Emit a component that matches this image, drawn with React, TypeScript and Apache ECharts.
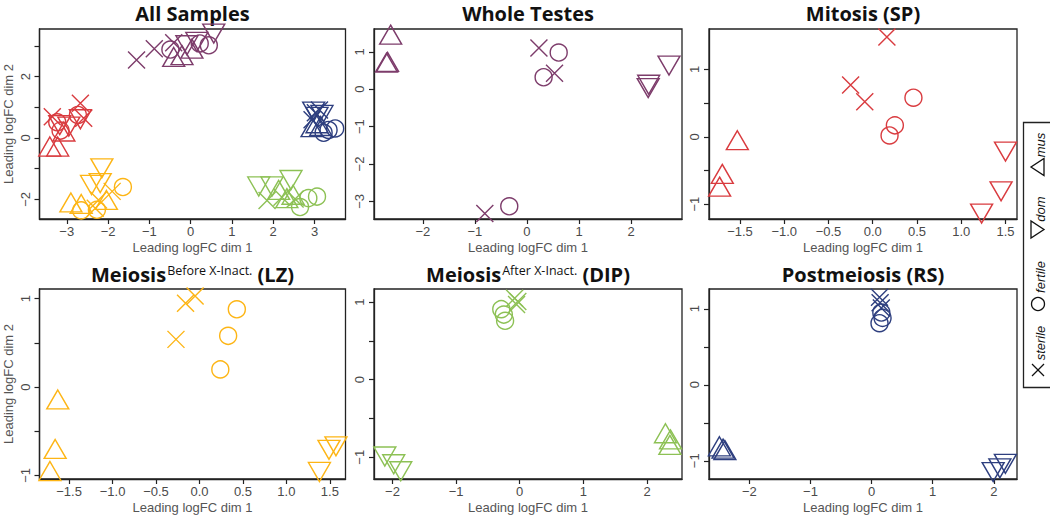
import React, { useEffect, useRef } from "react";
import * as echarts from "echarts";

// ---------- DATA ----------
// Panel 1: All samples (per stage cluster)
const allWT_sterile = [[-1.31, 2.54], [-0.88, 2.91], [-0.41, 3.1]];
const allWT_fertile = [[-0.49, 2.88], [0.22, 3.08], [0.44, 3.02]];
const allWT_dom = [[0.56, 3.4], [0.15, 3.13], [-0.09, 3.02]];
const allWT_mus = [[-0.41, 2.64], [-0.21, 2.7], [0.03, 2.91]];

const allSP_sterile = [[-2.67, 1.13], [-2.59, 0.64], [-3.35, 0.69]];
const allSP_fertile = [[-3.23, 0.51], [-2.73, 0.75], [-3.15, 0.24]];
const allSP_dom = [[-2.67, 0.61], [-2.95, 0.37], [-3.17, 0.42]];
const allSP_mus = [[-3.41, -0.28], [-3.22, -0.28], [-3.07, 0.21]];

const allLZ_sterile = [[-1.9, -1.74], [-2.23, -2.02], [-2.31, -2.29]];
const allLZ_fertile = [[-1.64, -1.6], [-2.27, -2.34], [-2.65, -2.36]];
const allLZ_dom = [[-2.15, -0.99], [-2.4, -1.53], [-2.19, -1.47]];
const allLZ_mus = [[-2.9, -2.1], [-2.65, -2.15], [-2.04, -2.02]];

const allDIP_sterile = [[1.85, -2.04], [2.21, -1.93], [2.53, -1.99]];
const allDIP_fertile = [[3.06, -1.91], [2.65, -2.25], [2.85, -1.96]];
const allDIP_dom = [[1.65, -1.58], [1.97, -1.58], [2.43, -1.37]];
const allDIP_mus = [[2.13, -1.69], [2.33, -1.96], [2.48, -1.85]];

const allRS_sterile = [[3.02, 0.82], [3.12, 0.91], [2.94, 0.59]];
const allRS_fertile = [[3.34, 0.26], [3.5, 0.31], [3.22, 0.17]];
const allRS_dom = [[2.98, 0.86], [3.18, 0.75], [3.06, 0.69]];
const allRS_mus = [[2.94, 0.35], [3.15, 0.39], [3.06, 0.48]];

// Panel 2: Whole testes
const wt_sterile = [[0.23, 1.1], [0.53, 0.43], [-0.81, -3.32]];
const wt_fertile = [[0.61, 0.98], [0.32, 0.32], [-0.34, -3.13]];
const wt_dom = [[2.73, 0.63], [2.34, 0.12], [2.33, 0.03]];
const wt_mus = [[-2.62, 1.46], [-2.7, 0.71], [-2.68, 0.73]];

// Panel 3: Mitosis (SP)
const sp_sterile = [[0.16, 1.48], [-0.25, 0.77], [-0.09, 0.52]];
const sp_fertile = [[0.46, 0.58], [0.25, 0.17], [0.19, 0.02]];
const sp_dom = [[1.5, -0.22], [1.45, -0.81], [1.23, -1.14]];
const sp_mus = [[-1.53, -0.05], [-1.7, -0.55], [-1.73, -0.74]];

// Panel 4: Meiosis before X-inactivation (LZ)
const lz_sterile = [[-0.05, 1.03], [-0.16, 0.95], [-0.27, 0.54]];
const lz_fertile = [[0.43, 0.88], [0.33, 0.58], [0.24, 0.2]];
const lz_dom = [[1.57, -0.67], [1.49, -0.71], [1.38, -0.96]];
const lz_mus = [[-1.63, -0.14], [-1.66, -0.7], [-1.72, -0.95]];

// Panel 5: Meiosis after X-inactivation (DIP)
const dip_sterile = [[-0.08, 1.05], [-0.03, 1.01], [-0.05, 0.97]];
const dip_fertile = [[-0.29, 0.91], [-0.25, 0.84], [-0.23, 0.76]];
const dip_dom = [[-2.12, -0.99], [-1.98, -1.09], [-1.87, -1.18]];
const dip_mus = [[2.29, -0.69], [2.37, -0.77], [2.36, -0.84]];

// Panel 6: Postmeiosis (RS)
const rs_sterile = [[0.13, 1.15], [0.14, 1.08], [0.16, 1.01]];
const rs_fertile = [[0.16, 0.95], [0.18, 0.88], [0.13, 0.81]];
const rs_dom = [[2.19, -1.04], [2.1, -1.1], [1.99, -1.15]];
const rs_mus = [[-2.49, -0.81], [-2.43, -0.84], [-2.4, -0.86]];

// Axis ticks / labels
const ticksInt3 = [-3, -2, -1, 0, 1, 2, 3];
const ticksAllY = [-2, -1, 0, 1, 2, 3];
const labelsAllY = [-2, 0, 2];
const ticksInt2 = [-2, -1, 0, 1, 2];
const ticksWTY = [-3, -2, -1, 0, 1];
const ticksHalf = [-1.5, -1, -0.5, 0, 0.5, 1, 1.5];
const ticksYHalf = [-1, -0.5, 0, 0.5, 1];
const labelsY1 = [-1, 0, 1];

const titles = ["All Samples", "Whole Testes", "Mitosis (SP)", "Meiosis|Before X-Inact.| (LZ)", "Meiosis|After X-Inact.| (DIP)", "Postmeiosis (RS)"];
const legendLabels = ["sterile", "fertile", "dom", "mus"];

// ---------- STYLE ----------
const C_WT = "#7D3C6B";
const C_SP = "#D93B3F";
const C_LZ = "#FDB515";
const C_DIP = "#8DC155";
const C_RS = "#2E3F7F";

const FONT = '"Liberation Sans", Arial, sans-serif';
const TITLE_FONT = '"Open Sans", Lato, sans-serif';

const SHAPES: Record<string, { symbol: string; size: number | number[] }> = {
  sterile: { symbol: "path://M0,0L10,10M10,0L0,10", size: 17 },
  fertile: { symbol: "circle", size: 17 },
  dom: { symbol: "path://M0,0L20,0L10,17.3Z", size: [22, 19] },
  mus: { symbol: "path://M10,0L20,17.3L0,17.3Z", size: [22, 19] },
};

const GRIDS = [
  { left: 39.5, top: 29, width: 306, height: 190 },
  { left: 374, top: 29, width: 308, height: 190 },
  { left: 709, top: 29, width: 308, height: 190 },
  { left: 39.5, top: 289, width: 306, height: 190 },
  { left: 374, top: 289, width: 308, height: 190 },
  { left: 709, top: 289, width: 308, height: 190 },
];

const RANGES = [
  { x: [-3.66, 3.75], y: [-2.64, 3.55], xt: ticksInt3, xl: ticksInt3, yt: ticksAllY, yl: labelsAllY, dec: 0 },
  { x: [-2.94, 2.98], y: [-3.47, 1.61], xt: ticksInt2, xl: ticksInt2, yt: ticksWTY, yl: ticksWTY, dec: 0 },
  { x: [-1.85, 1.63], y: [-1.22, 1.6], xt: ticksHalf, xl: ticksHalf, yt: ticksYHalf, yl: labelsY1, dec: 1 },
  { x: [-1.84, 1.68], y: [-1.04, 1.11], xt: ticksHalf, xl: ticksHalf, yt: ticksYHalf, yl: labelsY1, dec: 1 },
  { x: [-2.29, 2.55], y: [-1.28, 1.17], xt: ticksInt2, xl: ticksInt2, yt: ticksYHalf, yl: labelsY1, dec: 0 },
  { x: [-2.66, 2.38], y: [-1.24, 1.26], xt: ticksInt2, xl: ticksInt2, yt: ticksYHalf, yl: labelsY1, dec: 0 },
];

const fmt = (dec: number) => (v: number) => {
  const s = dec ? Number(v).toFixed(dec) : String(Math.round(v));
  return s.replace("-", "\u2212");
};

function sSeries(gi: number, color: string, shape: string, data: number[][]) {
  const sh = SHAPES[shape];
  return {
    type: "scatter",
    xAxisIndex: gi,
    yAxisIndex: gi,
    symbol: sh.symbol,
    symbolSize: sh.size,
    symbolKeepAspect: false,
    data,
    silent: true,
    itemStyle: { color: "transparent", borderColor: color, borderWidth: 1.4, opacity: 1 },
    emphasis: { disabled: true },
  };
}

export default function App() {
  const ref = useRef<HTMLDivElement>(null);
  useEffect(() => {
    if (!ref.current) return;
    const chart = echarts.init(ref.current, undefined, { renderer: "svg" });

    const grid = GRIDS.map((g) => ({ ...g, show: true, borderColor: "#222", borderWidth: 1.3, backgroundColor: "#fff" }));

    const xAxis = RANGES.map((r, i) => ({
      gridIndex: i,
      type: "value",
      min: r.x[0],
      max: r.x[1],
      name: "Leading logFC dim 1",
      nameLocation: "middle",
      nameGap: 22,
      nameTextStyle: { fontFamily: FONT, fontSize: 13, color: "#555" },
      axisLine: { show: true, onZero: false, lineStyle: { color: "#222", width: 1.3 } },
      axisTick: { show: true, length: 5, customValues: r.xt, lineStyle: { color: "#222", width: 1.2 } },
      axisLabel: { customValues: r.xl, formatter: fmt(r.dec), margin: 6, fontFamily: FONT, fontSize: 13, color: "#4a4a4a" },
      splitLine: { show: false },
    }));

    const yAxis = RANGES.map((r, i) => ({
      gridIndex: i,
      type: "value",
      min: r.y[0],
      max: r.y[1],
      name: i === 0 || i === 3 ? "Leading logFC dim 2" : "",
      nameLocation: "middle",
      nameGap: 25,
      nameRotate: 90,
      nameTextStyle: { fontFamily: FONT, fontSize: 13, color: "#555" },
      axisLine: { show: true, onZero: false, lineStyle: { color: "#222", width: 1.3 } },
      axisTick: { show: true, length: 5, customValues: r.yt, lineStyle: { color: "#222", width: 1.2 } },
      axisLabel: { customValues: r.yl, formatter: fmt(0), rotate: 90, margin: 8, fontFamily: FONT, fontSize: 13, color: "#4a4a4a" },
      splitLine: { show: false },
    }));

    const series: any[] = [];
    const add = (gi: number, color: string, st: number[][], fe: number[][], dm: number[][], mu: number[][]) => {
      series.push(sSeries(gi, color, "sterile", st));
      series.push(sSeries(gi, color, "fertile", fe));
      series.push(sSeries(gi, color, "dom", dm));
      series.push(sSeries(gi, color, "mus", mu));
    };
    add(0, C_WT, allWT_sterile, allWT_fertile, allWT_dom, allWT_mus);
    add(0, C_SP, allSP_sterile, allSP_fertile, allSP_dom, allSP_mus);
    add(0, C_LZ, allLZ_sterile, allLZ_fertile, allLZ_dom, allLZ_mus);
    add(0, C_DIP, allDIP_sterile, allDIP_fertile, allDIP_dom, allDIP_mus);
    add(0, C_RS, allRS_sterile, allRS_fertile, allRS_dom, allRS_mus);
    add(1, C_WT, wt_sterile, wt_fertile, wt_dom, wt_mus);
    add(2, C_SP, sp_sterile, sp_fertile, sp_dom, sp_mus);
    add(3, C_LZ, lz_sterile, lz_fertile, lz_dom, lz_mus);
    add(4, C_DIP, dip_sterile, dip_fertile, dip_dom, dip_mus);
    add(5, C_RS, rs_sterile, rs_fertile, rs_dom, rs_mus);

    // Titles
    const graphic: any[] = titles.map((t, i) => {
      const g = GRIDS[i];
      const parts = t.split("|");
      const text = parts.length === 3 ? `{m|${parts[0]}}{s|${parts[1]}}{m|${parts[2]}}` : `{m|${t}}`;
      return {
        type: "text",
        x: g.left + g.width / 2,
        y: i < 3 ? 13 : 274,
        silent: true,
        style: {
          text,
          textAlign: "center",
          textVerticalAlign: "middle",
          rich: {
            m: { fontFamily: TITLE_FONT, fontWeight: "bold", fontSize: 20, fill: "#111", verticalAlign: "middle", lineHeight: 20 },
            s: { fontFamily: TITLE_FONT, fontWeight: "normal", fontSize: 12.5, fill: "#111", verticalAlign: "middle", lineHeight: 13, padding: [0, 0, 8, 1] },
          },
        },
      };
    });

    // Legend box
    const lx = 1038;
    graphic.push({
      type: "rect",
      silent: true,
      shape: { x: 1023.5, y: 122.5, width: 40, height: 265 },
      style: { fill: "#fff", stroke: "#222", lineWidth: 1.3 },
    });
    const legendStroke = { stroke: "#111", lineWidth: 1.3, fill: "none" };
    // x (sterile)
    graphic.push({ type: "line", silent: true, shape: { x1: lx - 6, y1: 364, x2: lx + 6, y2: 376 }, style: legendStroke });
    graphic.push({ type: "line", silent: true, shape: { x1: lx - 6, y1: 376, x2: lx + 6, y2: 364 }, style: legendStroke });
    // o (fertile)
    graphic.push({ type: "circle", silent: true, shape: { cx: lx, cy: 304, r: 6.5 }, style: legendStroke });
    // dom (rotated down-triangle -> pointing right)
    graphic.push({ type: "polygon", silent: true, shape: { points: [[lx - 7, 221], [lx - 7, 238], [lx + 6, 229.5]] }, style: legendStroke });
    // mus (rotated up-triangle -> pointing left)
    graphic.push({ type: "polygon", silent: true, shape: { points: [[lx + 6, 158.5], [lx + 6, 175.5], [lx - 7, 167]] }, style: legendStroke });
    const legendY = [343, 277, 209, 145];
    legendLabels.forEach((t, i) => {
      graphic.push({
        type: "text",
        silent: true,
        x: lx + 2,
        y: legendY[i],
        rotation: Math.PI / 2,
        style: { text: t, font: `italic 13px ${FONT}`, fill: "#111", textAlign: "center", textVerticalAlign: "middle" },
      });
    });

    chart.setOption({
      animation: false,
      backgroundColor: "#fff",
      grid,
      xAxis,
      yAxis,
      series,
      graphic,
    });
    return () => chart.dispose();
  }, []);

  return <div ref={ref} style={{ position: "fixed", left: 0, top: 0, width: 1050, height: 515 }} />;
}
